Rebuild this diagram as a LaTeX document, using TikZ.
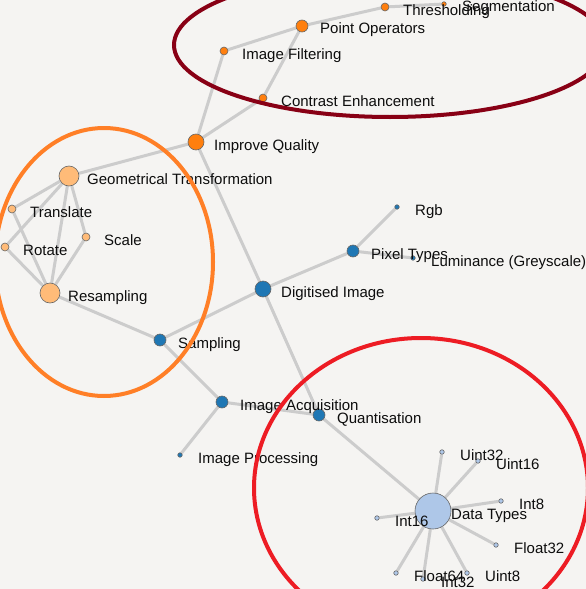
\documentclass[tikz,border=0pt]{standalone}
\usepackage{fontspec}
\setmainfont{Liberation Sans}
\definecolor{paper}{HTML}{F5F4F2}
\definecolor{qualc}{HTML}{FF7F0E}
\definecolor{geomc}{HTML}{FFBB78}
\definecolor{digic}{HTML}{1F77B4}
\definecolor{typec}{HTML}{AEC7E8}
\definecolor{linkc}{HTML}{CCCCCC}
\definecolor{ringmaroon}{HTML}{880015}
\definecolor{ringorange}{HTML}{FF7F27}
\definecolor{ringred}{HTML}{ED1C24}
\pgfdeclarelayer{bg}
\pgfdeclarelayer{edges}
\pgfsetlayers{bg,edges,main}
\begin{document}
\begin{tikzpicture}[x=1pt,y=-1pt,
    gnode/.style={circle,draw=black!60,line width=0.6pt,inner sep=0pt},
    dotxs/.style={gnode,minimum size=4.5pt},
    dots/.style={gnode,minimum size=8pt},
    dotm/.style={gnode,minimum size=12pt},
    dotl/.style={gnode,minimum size=16pt},
    dotxl/.style={gnode,minimum size=20pt},
    dothub/.style={gnode,minimum size=36pt},
    lbl/.style={anchor=base west,inner sep=0pt,text=black!95,font=\fontsize{15}{18}\selectfont},
    link/.style={draw=linkc,line width=3pt},
    ring/.style={line width=4pt}]
    \begin{pgfonlayer}{bg}
        \path [use as bounding box,fill=paper] (0,0) rectangle (586,589);
    \end{pgfonlayer}
    \clip (0,0) rectangle (586,589);
                % improve quality group
                \node [dotxs,fill=qualc] (seg) at (444,4) {};
                \node [dots,fill=qualc] (thr) at (385,7) {};
                \node [dotm,fill=qualc] (pop) at (302,26) {};
                \node [dots,fill=qualc] (filt) at (224,51) {};
                \node [dots,fill=qualc] (cont) at (263,98) {};
                \node [dotl,fill=qualc] (impq) at (196,142) {};
                % geometry group
                \node [dotxl,fill=geomc] (geo) at (69,176) {};
                \node [dots,fill=geomc] (trans) at (12,209) {};
                \node [dots,fill=geomc] (scale) at (86,237) {};
                \node [dots,fill=geomc] (rot) at (5,247) {};
                \node [dotxl,fill=geomc] (resamp) at (50,293) {};
                % digitising group
                \node [dotm,fill=digic] (samp) at (160,340) {};
                \node [dotl,fill=digic] (digim) at (263,289) {};
                \node [dotm,fill=digic] (pix) at (353,251) {};
                \node [dotxs,fill=digic] (rgb) at (397,207) {};
                \node [dotxs,fill=digic] (lum) at (413,258) {};
                \node [dotm,fill=digic] (acq) at (222,402) {};
                \node [dotm,fill=digic] (quant) at (319,415) {};
                \node [dotxs,fill=digic] (proc) at (180,455) {};
                % data types
                \node [dothub,fill=typec] (dtypes) at (433,511) {};
                \node [dotxs,fill=typec] (u32) at (442,452) {};
                \node [dotxs,fill=typec] (u16) at (478,461) {};
                \node [dotxs,fill=typec] (i8) at (501,501) {};
                \node [dotxs,fill=typec] (i16) at (377,518) {};
                \node [dotxs,fill=typec] (f32) at (496,545) {};
                \node [dotxs,fill=typec] (f64) at (396,573) {};
                \node [dotxs,fill=typec] (i32) at (423,579) {};
                \node [dotxs,fill=typec] (u8) at (467,573) {};
                % labels
                \node [lbl] (segL) at ([shift={(18,8)}]seg.center) {Segmentation};
                \node [lbl] (thrL) at ([shift={(18,8)}]thr.center) {Thresholding};
                \node [lbl] (popL) at ([shift={(18,8)}]pop.center) {Point Operators};
                \node [lbl] (filtL) at ([shift={(18,8)}]filt.center) {Image Filtering};
                \node [lbl] (contL) at ([shift={(18,8)}]cont.center) {Contrast Enhancement};
                \node [lbl] (impqL) at ([shift={(18,8)}]impq.center) {Improve Quality};
                \node [lbl] (geoL) at ([shift={(18,8)}]geo.center) {Geometrical Transformation};
                \node [lbl] (transL) at ([shift={(18,8)}]trans.center) {Translate};
                \node [lbl] (scaleL) at ([shift={(18,8)}]scale.center) {Scale};
                \node [lbl] (rotL) at ([shift={(18,8)}]rot.center) {Rotate};
                \node [lbl] (resampL) at ([shift={(18,8)}]resamp.center) {Resampling};
                \node [lbl] (sampL) at ([shift={(18,8)}]samp.center) {Sampling};
                \node [lbl] (digimL) at ([shift={(18,8)}]digim.center) {Digitised Image};
                \node [lbl] (pixL) at ([shift={(18,8)}]pix.center) {Pixel Types};
                \node [lbl] (rgbL) at ([shift={(18,8)}]rgb.center) {Rgb};
                \node [lbl] (lumL) at ([shift={(18,8)}]lum.center) {Luminance (Greyscale)};
                \node [lbl] (acqL) at ([shift={(18,8)}]acq.center) {Image Acquisition};
                \node [lbl] (quantL) at ([shift={(18,8)}]quant.center) {Quantisation};
                \node [lbl] (procL) at ([shift={(18,8)}]proc.center) {Image Processing};
                \node [lbl] (dtypesL) at ([shift={(18,8)}]dtypes.center) {Data Types};
                \node [lbl] (u32L) at ([shift={(18,8)}]u32.center) {Uint32};
                \node [lbl] (u16L) at ([shift={(18,8)}]u16.center) {Uint16};
                \node [lbl] (i8L) at ([shift={(18,8)}]i8.center) {Int8};
                \node [lbl] (i16L) at ([shift={(18,8)}]i16.center) {Int16};
                \node [lbl] (f32L) at ([shift={(18,8)}]f32.center) {Float32};
                \node [lbl] (f64L) at ([shift={(18,8)}]f64.center) {Float64};
                \node [lbl] (i32L) at ([shift={(18,8)}]i32.center) {Int32};
                \node [lbl] (u8L) at ([shift={(18,8)}]u8.center) {Uint8};
    \begin{pgfonlayer}{edges}
                \draw [link] (thr) -- (seg);
                \draw [link] (pop) -- (thr);
                \draw [link] (pop) -- (filt);
                \draw [link] (pop) -- (cont);
                \draw [link] (filt) -- (impq);
                \draw [link] (cont) -- (impq);
                \draw [link] (impq) -- (geo);
                \draw [link] (impq) -- (digim);
                \draw [link] (digim) -- (quant);
                \draw [link] (geo) -- (trans);
                \draw [link] (geo) -- (rot);
                \draw [link] (geo) -- (scale);
                \draw [link] (geo) -- (resamp);
                \draw [link] (trans) -- (resamp);
                \draw [link] (rot) -- (resamp);
                \draw [link] (scale) -- (resamp);
                \draw [link] (resamp) -- (samp);
                \draw [link] (samp) -- (digim);
                \draw [link] (samp) -- (acq);
                \draw [link] (digim) -- (pix);
                \draw [link] (pix) -- (rgb);
                \draw [link] (pix) -- (lum);
                \draw [link] (acq) -- (quant);
                \draw [link] (acq) -- (proc);
                \draw [link] (quant) -- (dtypes);
                \draw [link] (dtypes) -- (u32);
                \draw [link] (dtypes) -- (u16);
                \draw [link] (dtypes) -- (i8);
                \draw [link] (dtypes) -- (i16);
                \draw [link] (dtypes) -- (f32);
                \draw [link] (dtypes) -- (f64);
                \draw [link] (dtypes) -- (i32);
                \draw [link] (dtypes) -- (u8);
    \end{pgfonlayer}
                % hand drawn rings
                \draw [ring,ringmaroon] (390,45) ellipse [x radius=216, y radius=72];
                \draw [ring,ringorange] (104,262) ellipse [x radius=109, y radius=134];
                \draw [ring,ringred] (421,488) ellipse [x radius=167, y radius=150];
\end{tikzpicture}
\end{document}
